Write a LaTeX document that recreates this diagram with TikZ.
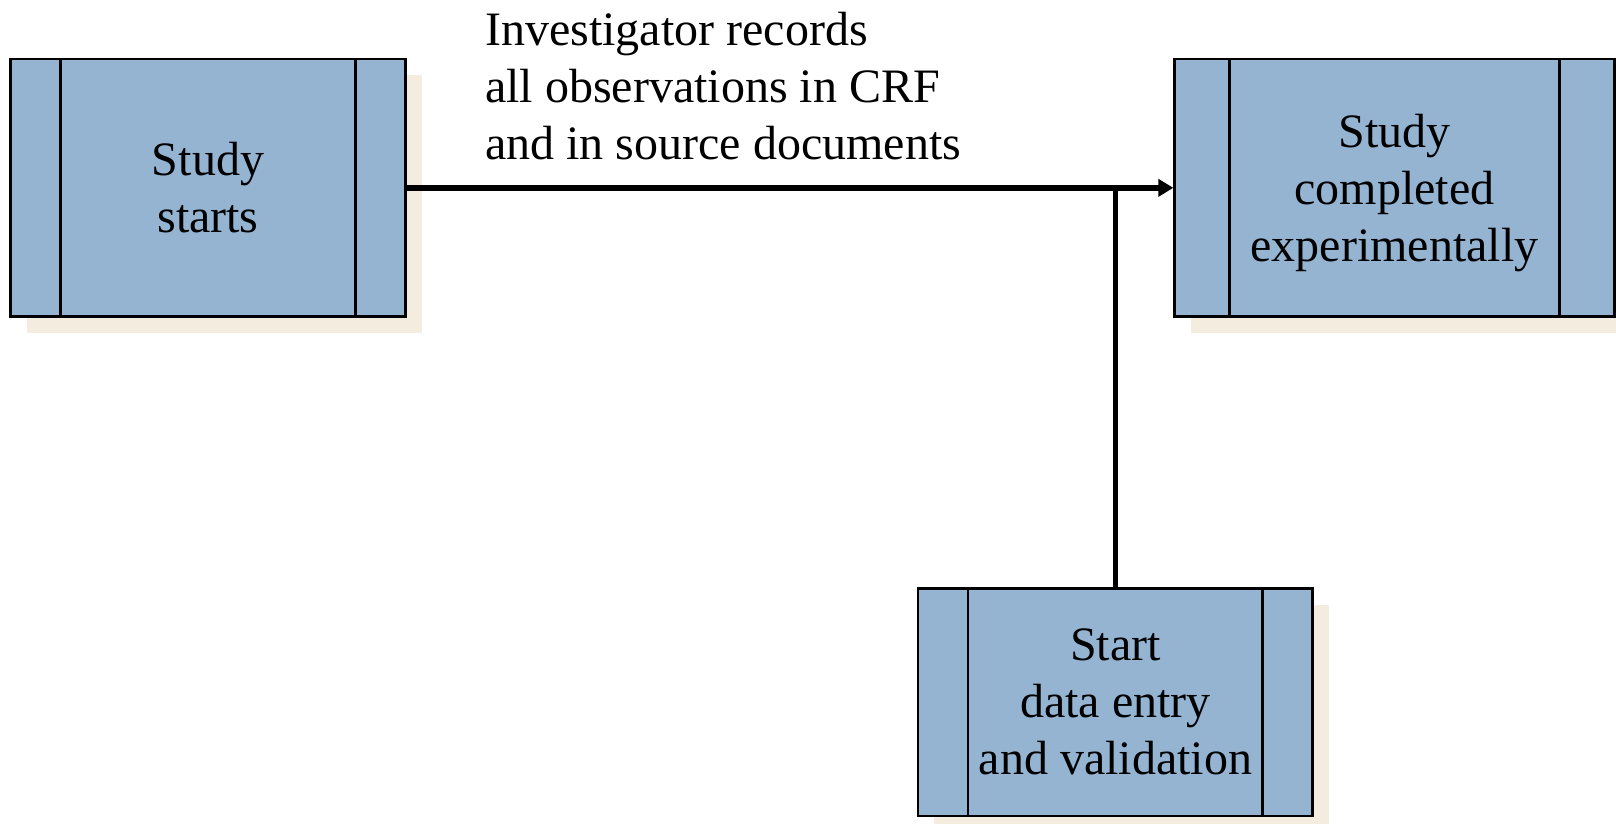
\documentclass[tikz,border=0pt]{standalone}
\usepackage{fontspec}
\setmainfont{Liberation Serif}
\usetikzlibrary{arrows.meta,shadows}

\definecolor{boxblue}{RGB}{148,180,210}
\definecolor{shadowcream}{RGB}{244,236,223}

\tikzset{
  x=1pt, y=1pt,
  bigtext/.style={font=\fontsize{48}{57}\selectfont},
  barw/.store in=\barwidth, barw=50pt,
  stage/.style={
    draw=black, line width=2.7pt, fill=boxblue, inner sep=0pt,
    align=center, bigtext,
    general shadow={fill=shadowcream, shadow xshift=16pt, shadow yshift=-16.5pt},
    path picture={
      \draw[line width=2.7pt]
        ([xshift=\barwidth]path picture bounding box.north west) --
        ([xshift=\barwidth]path picture bounding box.south west)
        ([xshift=-\barwidth]path picture bounding box.north east) --
        ([xshift=-\barwidth]path picture bounding box.south east);
    }
  },
  conn/.style={draw=black, line width=5.5pt},
}

\begin{document}
\begin{tikzpicture}
  \clip (0,0) rectangle (1616,823);
  \fill[white] (0,0) rectangle (1616,823);

  % process stages
  \node[stage, barw=50pt, minimum width=395pt, minimum height=257.7pt]
    (start) at (208,635.15) {Study\\starts};
  \node[stage, barw=55pt, minimum width=439.7pt, minimum height=257.7pt,
        label={[bigtext, align=center, yshift=-5.2pt]center:Study\\completed\\experimentally}]
    (done) at (1394.55,635.15) {};
  \node[stage, barw=50pt, minimum width=394.7pt, minimum height=227.7pt]
    (entry) at (1115.35,120.85) {Start\\data entry\\and validation};

  % main flow and its caption
  \draw[conn, -{Triangle[length=15pt,width=17pt]}] (start.east) -- (done.west);
  \node[bigtext, align=left, anchor=north west, inner sep=0pt]
    (caption) at (485,810.6)
    {Investigator records\\all observations in CRF\\and in source documents};

  % data entry branches off the main flow
  \draw[conn] (entry.north) -- (entry.north |- start.east);
\end{tikzpicture}
\end{document}
